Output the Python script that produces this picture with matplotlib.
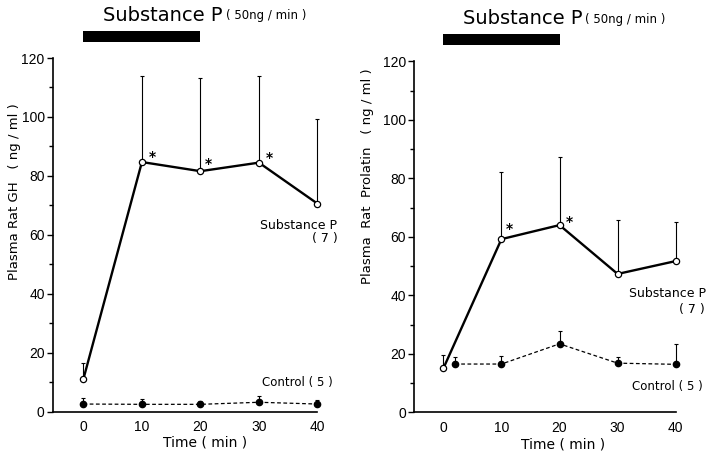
import numpy as np
import matplotlib
matplotlib.use("Agg")
import matplotlib.pyplot as plt

# Data -----------------------------------------------------------------
time = [0, 10, 20, 30, 40]

# Growth hormone (left panel)
gh_sp = [11.1, 84.7, 81.6, 84.5, 70.6]
gh_sp_top = [16.4, 114.0, 113.2, 113.8, 99.2]      # top of error bars
gh_ctrl = [2.6, 2.5, 2.5, 3.2, 2.6]
gh_ctrl_top = [4.6, 4.2, 3.6, 5.4, 3.8]
gh_ctrl_time = [0, 10, 20, 30, 40]
gh_stars = [(11.7, 86.5), (21.3, 84.0), (31.8, 86.0)]

# Prolactin (right panel)
prl_sp = [15.0, 59.2, 64.0, 47.3, 51.7]
prl_sp_top = [19.6, 82.3, 87.2, 65.7, 65.2]
prl_ctrl = [16.5, 16.5, 23.4, 16.8, 16.4]
prl_ctrl_top = [19.0, 19.4, 27.7, 19.0, 23.2]
prl_ctrl_time = [2, 10, 20, 30, 40]
prl_stars = [(11.4, 62.5), (21.7, 65.0)]

infusion = (0, 20)  # substance P infusion period, min

plt.rcParams['font.family'] = ['DejaVu Sans']
fig = plt.figure(figsize=(7.07, 4.54), dpi=100)

W, H = 707.0, 454.0


def panel(rect, xlim, sp, sp_top, ctrl, ctrl_t, ctrl_top, stars):
    ax = fig.add_axes(rect)
    sp = np.array(sp)
    ctrl = np.array(ctrl)
    # error bars, upper half only
    for xs, ys, tops in [(time, sp, sp_top), (ctrl_t, ctrl, ctrl_top)]:
        eb = ax.errorbar(xs, ys, yerr=[np.zeros(len(ys)), np.array(tops) - ys], fmt='none',
                         ecolor='black', elinewidth=0.8, capsize=1.5, capthick=0.8, zorder=2)
        for art in eb.lines[1] + eb.lines[2]:
            art.set_clip_on(False)
    ax.plot(ctrl_t, ctrl, linestyle=(0, (3, 2)), color='black', lw=0.9,
            marker='o', ms=4.5, mfc='black', mec='black', zorder=3, clip_on=False)
    ax.plot(time, sp, '-', color='black', lw=1.7, marker='o', ms=4.5,
            mfc='white', mec='black', mew=0.9, zorder=4, clip_on=False)
    for sx, sy in stars:
        ax.text(sx, sy, '*', fontsize=10, fontweight='bold', ha='center', va='center')

    ax.set_xlim(xlim)
    ax.set_ylim(0, 120)
    ax.set_xticks([0, 10, 20, 30, 40])
    ax.set_yticks([0, 20, 40, 60, 80, 100, 120])
    ax.set_yticks(np.arange(10, 120, 20), minor=True)
    ax.tick_params(axis='x', length=0, labelsize=10, pad=6)
    ax.tick_params(axis='y', which='major', length=4, width=1, labelsize=10, pad=2)
    ax.tick_params(axis='y', which='minor', length=3, width=1)
    for lab in ax.get_xticklabels() + ax.get_yticklabels():
        lab.set_fontfamily('Liberation Sans')
    for s in ['top', 'right']:
        ax.spines[s].set_visible(False)
    for s in ['left', 'bottom']:
        ax.spines[s].set_linewidth(1.2)

    # infusion bar and title
    ax.fill_between(list(infusion), 125.5, 129.3, color='black', clip_on=False, lw=0)
    ax.text(3.3, 134.5, 'Substance P', fontsize=14, ha='left', va='center')
    ax.text(24.4, 134.3, '( 50ng / min )', fontsize=8.5, ha='left', va='center')
    return ax


# left panel: GH
axL = panel([53 / W, 1 - 411.7 / H, 264.4 / W, 353.7 / H], (-5.2, 40),
            gh_sp, gh_sp_top, gh_ctrl, gh_ctrl_time, gh_ctrl_top, gh_stars)
axL.text(43.4, 63.3, 'Substance P', fontsize=9, ha='right', va='center', clip_on=False)
axL.text(43.4, 58.6, '( 7 )', fontsize=9, ha='right', va='center', clip_on=False)
axL.text(42.6, 9.8, 'Control ( 5 )', fontsize=8.5, ha='right', va='center', clip_on=False)
fig.text(15 / W, 1 - 192 / H, 'Plasma Rat GH   ( ng / ml )', rotation=90,
         fontsize=9.5, ha='center', va='center')
fig.text(205 / W, 1 - 443 / H, 'Time ( min )', fontsize=10, ha='center', va='center')

# right panel: prolactin
axR = panel([414.3 / W, 1 - 412.3 / H, 261.4 / W, 351 / H], (-5.0, 40),
            prl_sp, prl_sp_top, prl_ctrl, prl_ctrl_time, prl_ctrl_top, prl_stars)
axR.text(45.2, 40.7, 'Substance P', fontsize=9, ha='right', va='center', clip_on=False)
axR.text(45.0, 35.2, '( 7 )', fontsize=9, ha='right', va='center', clip_on=False)
axR.text(32.4, 8.75, 'Control ( 5 )', fontsize=8.5, ha='left', va='center', clip_on=False)
fig.text(367 / W, 1 - 176 / H, 'Plasma  Rat  Prolatin   ( ng / ml )', rotation=90,
         fontsize=9.5, ha='center', va='center')
fig.text(563 / W, 1 - 444 / H, 'Time ( min )', fontsize=10, ha='center', va='center')

fig.savefig('out.png', dpi=100)
